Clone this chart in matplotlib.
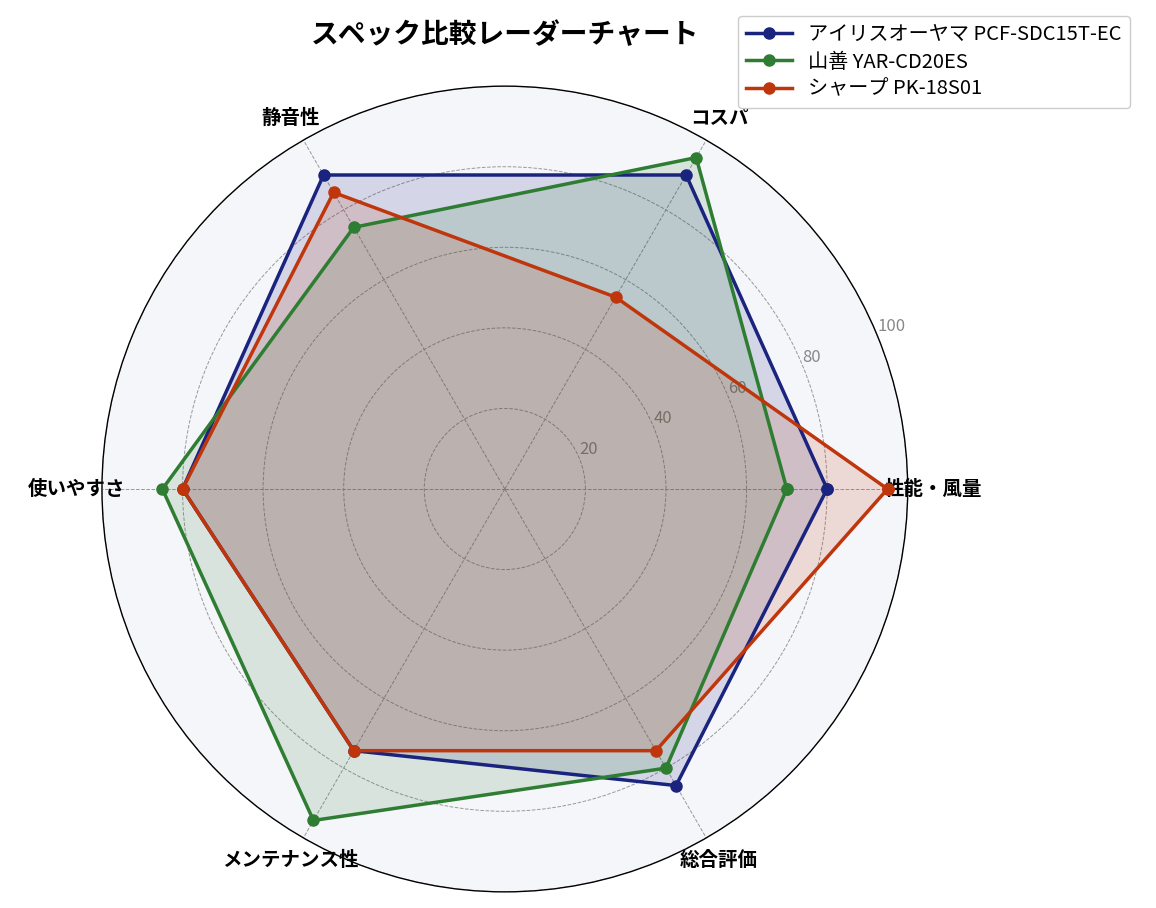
import numpy as np
import matplotlib
matplotlib.use("Agg")
import matplotlib.pyplot as plt

plt.rcParams["font.family"] = ["Noto Sans CJK JP", "DejaVu Sans"]

# ── data ──────────────────────────────────────────────────────────────────────
categories = ["性能・風量", "コスパ", "静音性", "使いやすさ", "メンテナンス性", "総合評価"]
models = ["アイリスオーヤマ PCF-SDC15T-EC", "山善 YAR-CD20ES", "シャープ PK-18S01"]
iris = [80, 90, 90, 80, 75, 85]
yamazen = [70, 95, 75, 85, 95, 80]
sharp = [95, 55, 85, 80, 75, 75]
colors = ["#1a237e", "#2e7d32", "#bf360c"]
r_ticks = [20, 40, 60, 80, 100]

series = [iris, yamazen, sharp]
angles = np.linspace(0, 2 * np.pi, len(categories), endpoint=False)
angles_closed = np.concatenate([angles, angles[:1]])

fig = plt.figure(figsize=(11.56, 9.08), dpi=100)
ax = fig.add_axes([0.0882, 0.0176, 0.697, 0.8877], projection="polar")
ax.set_facecolor("#f5f6fa")

for vals, name, col in zip(series, models, colors):
    v = np.concatenate([vals, vals[:1]])
    ax.plot(angles_closed, v, color=col, lw=2.5, marker="o", ms=8, label=name, zorder=3)
    ax.fill(angles_closed, v, color=col, alpha=0.15, zorder=2)

ax.set_ylim(0, 100)
ax.set_yticks(r_ticks)
ax.set_yticklabels([str(t) for t in r_ticks], color="#888888", fontsize=12)
ax.set_rlabel_position(22.5)
ax.set_xticks(angles)
ax.set_xticklabels(categories, fontsize=14, fontweight="bold")
ax.tick_params(axis="x", pad=8)
ax.grid(True, color="#999999", linestyle="--", linewidth=0.7)
ax.spines["polar"].set_color("black")
ax.spines["polar"].set_linewidth(1.0)

fig.text(0.437, 0.961, "スペック比較レーダーチャート", ha="center", va="center",
         fontsize=20, fontweight="bold")
ax.legend(loc="upper right", bbox_to_anchor=(0.9862, 0.993), bbox_transform=fig.transFigure,
          fontsize=14.5, framealpha=1.0, borderpad=0.4, labelspacing=0.3,
          handlelength=2.3)

fig.savefig("out.png", dpi=100)
